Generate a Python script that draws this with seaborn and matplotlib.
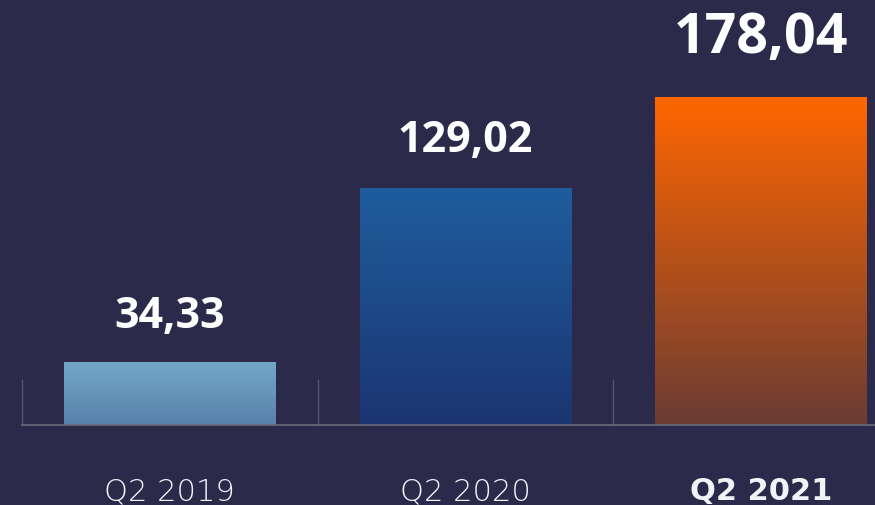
import numpy as np
import pandas as pd
import seaborn as sns
import matplotlib.pyplot as plt
from matplotlib.colors import LinearSegmentedColormap

# data
quarters = ["Q2 2019", "Q2 2020", "Q2 2021"]
values = [34.33, 129.02, 178.04]
value_labels = ["34,33", "129,02", "178,04"]

# styles
bg = "#2b2a4a"
grad_top = ["#74a7ca", "#1f5d9e", "#ff6600"]
grad_bottom = ["#5881ab", "#1b3571", "#6b3c33"]
label_sizes = [31, 31, 40]
label_gaps = [25, 26, 33]

sns.set_theme(style="white")
plt.rcParams["font.family"] = ["DejaVu Sans"]

fig = plt.figure(figsize=(8.75, 5.06), dpi=100, facecolor=bg)
ax = fig.add_axes([22 / 875, 80 / 506, 1 - 22 / 875, 426 / 506])
ax.set_facecolor(bg)

df = pd.DataFrame({"quarter": quarters, "value": values})
sns.barplot(data=df, x="quarter", y="value", ax=ax, width=0.716,
            color=bg, saturation=1, linewidth=0)

# gradient fill for each bar
grad = np.linspace(0, 1, 256).reshape(-1, 1)
for i, patch in enumerate(ax.patches):
    x, w, h = patch.get_x(), patch.get_width(), patch.get_height()
    cmap = LinearSegmentedColormap.from_list(f"g{i}", [grad_bottom[i], grad_top[i]])
    im = ax.imshow(grad, extent=[x, x + w, 0, h], origin="lower", aspect="auto",
                   cmap=cmap, zorder=patch.get_zorder() + 0.1)
    im.set_clip_path(patch)

for i, (v, lab) in enumerate(zip(values, value_labels)):
    ax.annotate(lab, xy=(i, v), xytext=(0, label_gaps[i]), textcoords="offset points",
                ha="center", va="baseline", fontsize=label_sizes[i],
                fontweight="bold", color="white", family=["Open Sans", "DejaVu Sans"])

ax.set_xlim(-0.5, 2.385)
ax.set_ylim(0, 231.5)
ax.set_xlabel("")
ax.set_ylabel("")
ax.set_yticks([])
for s in ["left", "top", "right"]:
    ax.spines[s].set_visible(False)
ax.spines["bottom"].set_color("#6a6a7c")
ax.spines["bottom"].set_linewidth(1.2)

ax.set_xticks([-0.5, 0.5, 1.5], minor=True)
ax.tick_params(axis="x", which="minor", direction="in", length=33, width=1,
               color="#55556a", bottom=True)
ax.tick_params(axis="x", which="major", length=0, pad=37, labelsize=22,
               labelcolor="#f2f2f6")
for i, t in enumerate(ax.get_xticklabels()):
    t.set_fontweight("bold" if i == len(quarters) - 1 else "light")

fig.savefig("out.png", dpi=100, facecolor=bg)
